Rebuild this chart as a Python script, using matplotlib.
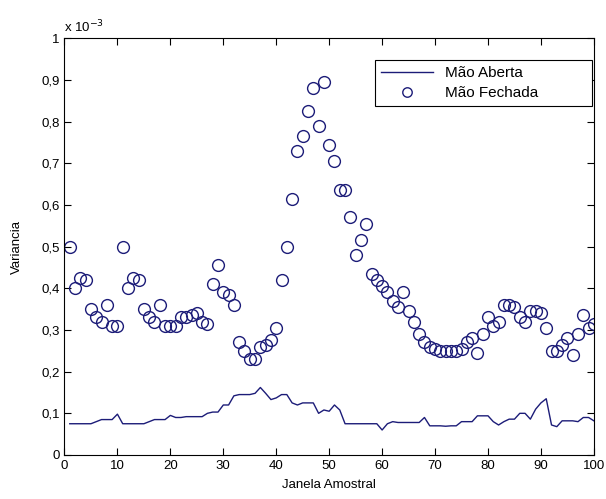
import numpy as np
import matplotlib
matplotlib.use('Agg')
import matplotlib.pyplot as plt

plt.rcParams['font.family'] = ['Liberation Sans', 'DejaVu Sans']

# janela amostral 1..100, valores em unidades de 1e-3
janela = np.arange(1, 101)

aberta = [0.075, 0.075, 0.075, 0.075, 0.075, 0.080, 0.085, 0.085, 0.085, 0.098,
          0.075, 0.075, 0.075, 0.075, 0.075, 0.080, 0.085, 0.085, 0.085, 0.095,
          0.090, 0.090, 0.092, 0.092, 0.092, 0.092, 0.100, 0.103, 0.103, 0.120,
          0.120, 0.142, 0.145, 0.145, 0.145, 0.148, 0.162, 0.148, 0.133, 0.137,
          0.145, 0.145, 0.125, 0.120, 0.125, 0.125, 0.125, 0.100, 0.108, 0.105,
          0.120, 0.108, 0.075, 0.075, 0.075, 0.075, 0.075, 0.075, 0.075, 0.060,
          0.075, 0.080, 0.078, 0.078, 0.078, 0.078, 0.078, 0.090, 0.070, 0.070,
          0.070, 0.069, 0.070, 0.070, 0.080, 0.080, 0.080, 0.094, 0.094, 0.094,
          0.080, 0.072, 0.080, 0.086, 0.086, 0.100, 0.100, 0.086, 0.110, 0.125,
          0.135, 0.072, 0.068, 0.082, 0.082, 0.082, 0.080, 0.090, 0.090, 0.082]

fechada = [0.500, 0.400, 0.425, 0.420, 0.350, 0.330, 0.320, 0.360, 0.310, 0.310,
           0.500, 0.400, 0.425, 0.420, 0.350, 0.330, 0.320, 0.360, 0.310, 0.310,
           0.310, 0.330, 0.330, 0.335, 0.340, 0.320, 0.315, 0.410, 0.455, 0.390,
           0.385, 0.360, 0.270, 0.250, 0.230, 0.230, 0.260, 0.265, 0.275, 0.305,
           0.420, 0.500, 0.615, 0.730, 0.765, 0.825, 0.880, 0.790, 0.895, 0.745,
           0.705, 0.635, 0.635, 0.570, 0.480, 0.515, 0.555, 0.435, 0.420, 0.405,
           0.390, 0.370, 0.355, 0.390, 0.345, 0.320, 0.290, 0.270, 0.260, 0.255,
           0.250, 0.250, 0.250, 0.250, 0.255, 0.270, 0.280, 0.245, 0.290, 0.330,
           0.310, 0.320, 0.360, 0.360, 0.355, 0.330, 0.320, 0.345, 0.345, 0.340,
           0.305, 0.250, 0.250, 0.265, 0.280, 0.240, 0.290, 0.335, 0.305, 0.315]

cor = '#1c1c78'
fsize = 9.5

fig = plt.figure(figsize=(6.06, 4.99), dpi=100)
ax = fig.add_axes([0.1064, 0.0882, 0.8736, 0.8350])

ax.plot(janela, aberta, color=cor, lw=1.0, label='Mão Aberta')
ax.plot(janela, fechada, 'o', mfc='none', mec=cor, ms=8.5, mew=1.0, label='Mão Fechada')

ax.set_xlim(0, 100)
ax.set_ylim(0, 1)
ax.set_xticks(np.arange(0, 101, 10))
yt = np.round(np.arange(0, 1.01, 0.1), 1)
ax.set_yticks(yt)
ax.set_yticklabels(['0' if v == 0 else ('1' if v == 1 else f'{v:.1f}'.replace('.', ','))
                    for v in yt])
ax.tick_params(direction='in', top=True, right=True, labelsize=fsize, length=5)
ax.set_xlabel('Janela Amostral', fontsize=fsize, labelpad=5)
ax.set_ylabel('Variancia', fontsize=fsize, labelpad=13)
ax.text(0.0, 1.008, r'x 10$^{-3}$', transform=ax.transAxes, fontsize=fsize,
        ha='left', va='bottom')

leg = ax.legend(loc='upper left', fontsize=11, fancybox=False, framealpha=1,
                edgecolor='black', handlelength=3.4, handletextpad=0.8,
                borderpad=0.4, labelspacing=0.4, markerscale=0.8,
                borderaxespad=0.0,
                mode='expand', bbox_to_anchor=(0.586, 0.0, 0.41, 0.948))
leg.get_frame().set_linewidth(0.8)

fig.savefig('out.png', dpi=100)
